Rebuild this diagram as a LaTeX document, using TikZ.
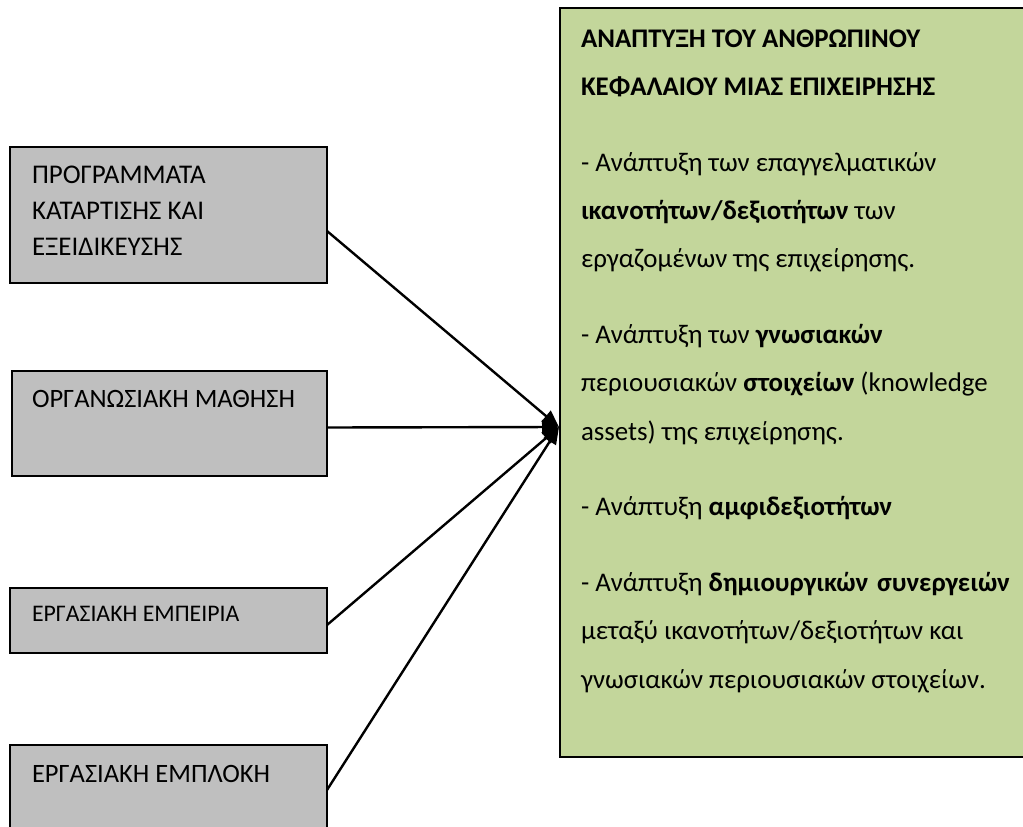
\documentclass[tikz,border=0pt]{standalone}
\usepackage{fontspec}
\setmainfont{Carlito}
\usetikzlibrary{arrows.meta}
\definecolor{boxgrey}{HTML}{BFBFBF}
\definecolor{goalgreen}{HTML}{C3D69B}
\tikzset{
  srcbox/.style={draw=black, line width=2pt, fill=boxgrey, rectangle,
    anchor=north west, inner sep=0pt, outer sep=0pt},
  goalbox/.style={draw=black, line width=2pt, fill=goalgreen, rectangle,
    anchor=north west, inner sep=0pt, outer sep=0pt},
  lbl/.style={anchor=base west, inner sep=0pt, outer sep=0pt},
  conn/.style={line width=2.4pt, -{Triangle[length=17pt,width=14pt]}}
}
\begin{document}
\begin{tikzpicture}[x=1pt, y=-1pt]
\useasboundingbox (0,0) rectangle (1023,827);

% source boxes on the left
\node[srcbox, minimum width=317pt, minimum height=136pt] (b1) at (10,147) {};
\node[srcbox, minimum width=315pt, minimum height=105pt] (b2) at (12,371) {};
\node[srcbox, minimum width=317pt, minimum height=65pt]  (b3) at (10,588) {};
\node[srcbox, minimum width=317pt, minimum height=100pt] (b4) at (10,745) {};

\node[lbl, font=\fontsize{27}{36}\selectfont] (t1) at (32,183)
  {\vtop{\baselineskip=36pt\hbox{ΠΡΟΓΡΑΜΜΑΤΑ}\hbox{ΚΑΤΑΡΤΙΣΗΣ ΚΑΙ}\hbox{ΕΞΕΙΔΙΚΕΥΣΗΣ}}};
\node[lbl, font=\fontsize{26.5}{36}\selectfont] (t2) at (32,407) {ΟΡΓΑΝΩΣΙΑΚΗ ΜΑΘΗΣΗ};
\node[lbl, font=\fontsize{23.8}{30}\selectfont] (t3) at (32,621) {ΕΡΓΑΣΙΑΚΗ ΕΜΠΕΙΡΙΑ};
\node[lbl, font=\fontsize{26.5}{36}\selectfont] (t4) at (32,782) {ΕΡΓΑΣΙΑΚΗ ΕΜΠΛΟΚΗ};

% outcome box on the right
\node[goalbox, minimum width=480pt, minimum height=749pt] (goal) at (560,8) {};
\node[lbl, font=\fontsize{26.9}{48.5}\selectfont] (gt) at (581,47)
  {\vtop{\baselineskip=48.5pt
    \hbox{\bfseries ΑΝΑΠΤΥΞΗ ΤΟΥ ΑΝΘΡΩΠΙΝΟΥ}
    \hbox{\bfseries ΚΕΦΑΛΑΙΟΥ ΜΙΑΣ ΕΠΙΧΕΙΡΗΣΗΣ}
    \vskip27pt
    \hbox{- Ανάπτυξη των επαγγελματικών}
    \hbox{\textbf{ικανοτήτων/δεξιοτήτων} των}
    \hbox{εργαζομένων της επιχείρησης.}
    \vskip27pt
    \hbox{- Ανάπτυξη των \textbf{γνωσιακών}}
    \hbox{περιουσιακών \textbf{στοιχείων} (knowledge}
    \hbox{assets) της επιχείρησης.}
    \vskip27pt
    \hbox{- Ανάπτυξη \textbf{αμφιδεξιοτήτων}}
    \vskip27pt
    \hbox{- Ανάπτυξη \textbf{δημιουργικών}\hspace{9pt}\textbf{συνεργειών}}
    \hbox{μεταξύ ικανοτήτων/δεξιοτήτων και}
    \hbox{γνωσιακών περιουσιακών στοιχείων.}}};

% connectors converging on the outcome box
\coordinate (tip) at (559,427);
\draw[conn] ([yshift=-16pt]b1.east) -- (tip);
\draw[conn] ([yshift=-4pt]b2.east) -- (tip);
\draw[conn] ([yshift=-4.5pt]b3.east) -- (tip);
\draw[conn] ([yshift=-45pt]b4.north east) -- (tip);
\end{tikzpicture}
\end{document}
